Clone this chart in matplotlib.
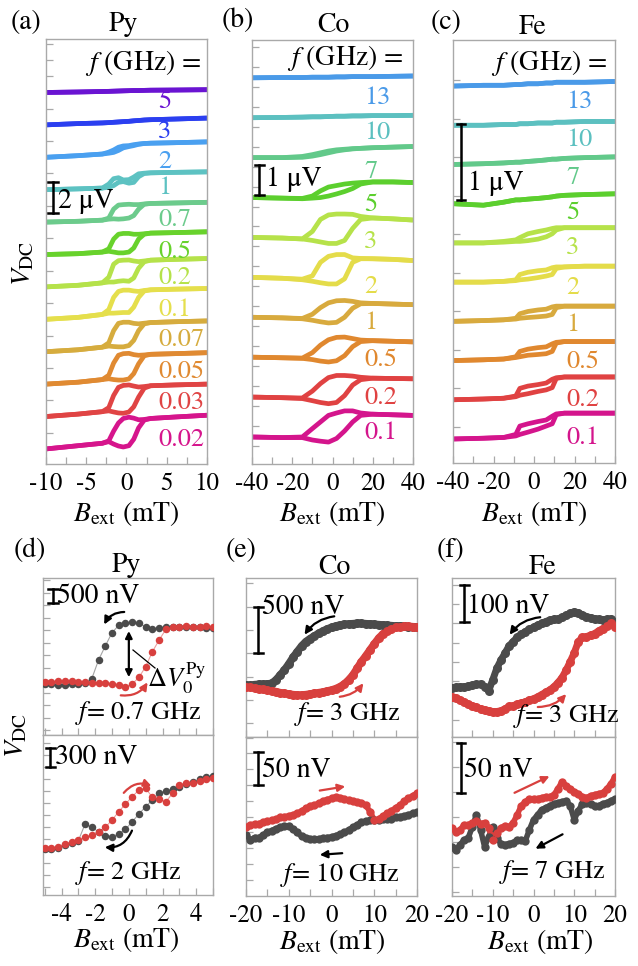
import numpy as np
import matplotlib
matplotlib.use("Agg")
import matplotlib.pyplot as plt
from matplotlib.lines import Line2D
from matplotlib.patches import FancyArrowPatch

plt.rcParams['font.family'] = ['STIXGeneral', 'DejaVu Serif']
plt.rcParams['mathtext.fontset'] = 'stix'
plt.rcParams['axes.unicode_minus'] = False

# ---------------- DATA ----------------
# (a) Py : field grid (mT) and V_DC relative to each curve's left level (uV)
py_freqs = ["5", "3", "2", "1", "0.7", "0.5", "0.2", "0.1", "0.07", "0.05", "0.03", "0.02"]
py_B = [-10, -6, -3, -2.2, -1.6, -1.0, -0.4, 0.3, 0.9, 1.5, 2.2, 3, 6, 10]
py_down = [
    [0, 0.03, 0.06, 0.07, 0.08, 0.09, 0.1, 0.11, 0.12, 0.12, 0.13, 0.14, 0.15, 0.17],
    [0, 0.08, 0.12, 0.14, 0.16, 0.18, 0.2, 0.22, 0.25, 0.27, 0.3, 0.32, 0.36, 0.42],
    [0, 0.1, 0.2, 0.32, 0.45, 0.62, 0.7, 0.72, 0.78, 0.82, 0.85, 0.87, 0.9, 0.95],
    [0, 0.05, 0.1, 0.35, 0.68, 0.74, 0.6, 0.62, 0.78, 0.98, 1.02, 1.04, 1.07, 1.1],
    [0, 0.05, 0.12, 0.25, 0.8, 1.05, 1.08, 1.1, 1.08, 1.08, 1.12, 1.15, 1.18, 1.22],
    [0, 0.05, 0.15, 0.35, 0.95, 1.25, 1.3, 1.3, 1.25, 1.25, 1.28, 1.32, 1.35, 1.4],
    [0, 0.1, 0.25, 0.6, 1.4, 1.62, 1.65, 1.66, 1.6, 1.56, 1.6, 1.65, 1.7, 1.75],
    [0, 0.12, 0.3, 0.6, 1.35, 1.72, 1.8, 1.8, 1.75, 1.72, 1.78, 1.82, 1.86, 1.9],
    [0, 0.12, 0.28, 0.55, 1.3, 1.75, 1.82, 1.82, 1.75, 1.72, 1.76, 1.8, 1.85, 1.9],
    [0, 0.12, 0.28, 0.55, 1.3, 1.78, 1.88, 1.9, 1.82, 1.78, 1.8, 1.84, 1.88, 1.94],
    [0, 0.15, 0.3, 0.55, 1.3, 1.8, 1.92, 1.95, 1.88, 1.82, 1.85, 1.9, 1.95, 2.0],
    [0, 0.2, 0.35, 0.5, 1.1, 1.6, 1.88, 1.96, 1.9, 1.8, 1.82, 1.88, 1.97, 2.08],
]
py_up = [
    [0, 0.03, 0.06, 0.07, 0.08, 0.09, 0.1, 0.11, 0.12, 0.12, 0.13, 0.14, 0.15, 0.17],
    [0, 0.08, 0.12, 0.14, 0.16, 0.18, 0.2, 0.22, 0.25, 0.27, 0.3, 0.32, 0.36, 0.42],
    [0, 0.1, 0.2, 0.25, 0.3, 0.42, 0.58, 0.66, 0.72, 0.8, 0.85, 0.87, 0.9, 0.95],
    [0, 0.05, 0.1, 0.15, 0.25, 0.45, 0.5, 0.4, 0.45, 0.8, 1.0, 1.04, 1.07, 1.1],
    [0, 0.05, 0.12, 0.18, 0.2, 0.18, 0.2, 0.25, 0.4, 0.8, 1.1, 1.15, 1.18, 1.22],
    [0, 0.05, 0.15, 0.2, 0.15, 0.1, 0.1, 0.15, 0.4, 0.95, 1.25, 1.32, 1.35, 1.4],
    [0, 0.1, 0.25, 0.3, 0.3, 0.35, 0.38, 0.35, 0.55, 1.15, 1.55, 1.65, 1.7, 1.75],
    [0, 0.12, 0.3, 0.38, 0.38, 0.4, 0.42, 0.42, 0.75, 1.35, 1.75, 1.82, 1.86, 1.9],
    [0, 0.12, 0.28, 0.35, 0.32, 0.3, 0.3, 0.38, 0.7, 1.3, 1.72, 1.8, 1.85, 1.9],
    [0, 0.12, 0.28, 0.33, 0.28, 0.25, 0.25, 0.32, 0.65, 1.25, 1.75, 1.84, 1.88, 1.94],
    [0, 0.15, 0.3, 0.35, 0.28, 0.22, 0.2, 0.28, 0.6, 1.2, 1.75, 1.9, 1.95, 2.0],
    [0, 0.2, 0.35, 0.45, 0.3, 0.18, 0.12, 0.2, 0.6, 1.3, 1.78, 1.88, 1.97, 2.08],
]

# (b) Co
co_freqs = ["13", "10", "7", "5", "3", "2", "1", "0.5", "0.2", "0.1"]
co_B = [-40, -25, -15, -10, -6, -2, 2, 6, 10, 14, 20, 30, 40]
co_down = [
    [0, 0.01, 0.01, 0.02, 0.02, 0.02, 0.03, 0.03, 0.04, 0.04, 0.04, 0.05, 0.06],
    [0, 0.01, 0.02, 0.03, 0.03, 0.04, 0.05, 0.05, 0.06, 0.06, 0.07, 0.07, 0.08],
    [0, 0, 0.04, 0.1, 0.16, 0.22, 0.26, 0.28, 0.3, 0.31, 0.33, 0.35, 0.37],
    [0, -0.02, -0.03, 0.05, 0.22, 0.35, 0.4, 0.45, 0.48, 0.5, 0.52, 0.52, 0.5],
    [0, -0.02, -0.05, 0.2, 0.6, 0.75, 0.78, 0.78, 0.77, 0.7, 0.65, 0.62, 0.58],
    [0, -0.03, -0.06, 0.05, 0.5, 0.7, 0.76, 0.76, 0.65, 0.63, 0.62, 0.6, 0.56],
    [0, -0.02, -0.04, 0.1, 0.32, 0.48, 0.55, 0.56, 0.53, 0.48, 0.46, 0.44, 0.42],
    [0, -0.02, -0.03, 0.15, 0.4, 0.58, 0.66, 0.67, 0.62, 0.57, 0.55, 0.53, 0.51],
    [0, -0.02, -0.03, 0.2, 0.45, 0.65, 0.72, 0.72, 0.7, 0.66, 0.63, 0.62, 0.61],
    [0, -0.02, 0.0, 0.28, 0.5, 0.72, 0.8, 0.87, 0.87, 0.8, 0.76, 0.74, 0.72],
]
co_up = [
    [0, 0.01, 0.01, 0.02, 0.02, 0.02, 0.03, 0.03, 0.04, 0.04, 0.04, 0.05, 0.06],
    [0, 0.01, 0.02, 0.03, 0.03, 0.04, 0.05, 0.05, 0.06, 0.06, 0.07, 0.07, 0.08],
    [0, 0, 0.01, 0.05, 0.1, 0.16, 0.22, 0.26, 0.29, 0.31, 0.33, 0.35, 0.37],
    [0, -0.02, -0.04, -0.02, 0.0, 0.05, 0.12, 0.2, 0.3, 0.45, 0.52, 0.52, 0.5],
    [0, -0.02, -0.05, -0.1, -0.15, -0.2, -0.2, -0.1, 0.3, 0.6, 0.65, 0.62, 0.58],
    [0, -0.03, -0.08, -0.13, -0.18, -0.22, -0.22, -0.05, 0.5, 0.62, 0.62, 0.6, 0.56],
    [0, -0.02, -0.05, -0.1, -0.15, -0.19, -0.17, 0.0, 0.3, 0.45, 0.46, 0.44, 0.42],
    [0, -0.02, -0.04, -0.08, -0.13, -0.16, -0.12, 0.05, 0.35, 0.52, 0.55, 0.53, 0.51],
    [0, -0.02, -0.05, -0.12, -0.18, -0.22, -0.18, 0.05, 0.4, 0.58, 0.63, 0.62, 0.61],
    [0, -0.02, -0.02, -0.1, -0.14, -0.17, -0.05, 0.2, 0.5, 0.72, 0.76, 0.74, 0.72],
]

# (c) Fe
fe_freqs = ["13", "10", "7", "5", "3", "2", "1", "0.5", "0.2", "0.1"]
fe_B = [-40, -25, -15, -9, -7, -3, 2, 6, 9, 11, 15, 25, 40]
fe_down = [
    [0, 0.01, 0.01, 0.02, 0.02, 0.03, 0.03, 0.04, 0.04, 0.05, 0.05, 0.05, 0.06],
    [0, 0.0, 0.01, 0.01, 0.02, 0.02, 0.03, 0.03, 0.03, 0.04, 0.04, 0.05, 0.05],
    [0, 0.01, 0.02, 0.03, 0.03, 0.04, 0.05, 0.06, 0.07, 0.07, 0.08, 0.09, 0.1],
    [0, -0.02, 0.02, 0.05, 0.05, 0.06, 0.07, 0.08, 0.09, 0.1, 0.11, 0.12, 0.13],
    [0, 0.0, 0.02, 0.04, 0.07, 0.12, 0.15, 0.17, 0.19, 0.2, 0.2, 0.2, 0.2],
    [0, 0.0, 0.01, 0.03, 0.1, 0.13, 0.15, 0.16, 0.19, 0.2, 0.2, 0.21, 0.21],
    [0, 0.01, 0.02, 0.04, 0.1, 0.13, 0.15, 0.16, 0.19, 0.2, 0.2, 0.2, 0.2],
    [0, 0.01, 0.02, 0.05, 0.12, 0.15, 0.17, 0.18, 0.22, 0.24, 0.25, 0.25, 0.25],
    [0, 0.01, 0.02, 0.05, 0.15, 0.18, 0.2, 0.22, 0.27, 0.29, 0.3, 0.3, 0.3],
    [0, 0.01, 0.02, 0.06, 0.17, 0.2, 0.23, 0.25, 0.3, 0.33, 0.34, 0.34, 0.34],
]
fe_up = [
    [0, 0.01, 0.01, 0.02, 0.02, 0.03, 0.03, 0.04, 0.04, 0.05, 0.05, 0.05, 0.06],
    [0, 0.0, 0.01, 0.01, 0.02, 0.02, 0.03, 0.03, 0.03, 0.04, 0.04, 0.05, 0.05],
    [0, 0.01, 0.02, 0.03, 0.03, 0.04, 0.05, 0.06, 0.07, 0.07, 0.08, 0.09, 0.1],
    [0, -0.02, 0.02, 0.05, 0.05, 0.06, 0.07, 0.08, 0.09, 0.1, 0.11, 0.12, 0.13],
    [0, 0, 0.01, 0.02, 0.02, 0.03, 0.05, 0.08, 0.12, 0.17, 0.2, 0.2, 0.2],
    [0, 0, 0.01, 0.02, 0.03, 0.04, 0.06, 0.08, 0.1, 0.18, 0.2, 0.21, 0.21],
    [0, 0.01, 0.02, 0.03, 0.04, 0.05, 0.06, 0.07, 0.09, 0.18, 0.2, 0.2, 0.2],
    [0, 0.01, 0.02, 0.04, 0.05, 0.07, 0.08, 0.09, 0.12, 0.23, 0.25, 0.25, 0.25],
    [0, 0.01, 0.02, 0.04, 0.06, 0.08, 0.11, 0.13, 0.16, 0.28, 0.3, 0.3, 0.3],
    [0, 0.01, 0.02, 0.04, 0.06, 0.09, 0.13, 0.17, 0.2, 0.32, 0.34, 0.34, 0.34],
]

# (d) Py, nV
d_B = [-5.0, -4.6, -4.2, -3.8, -3.4, -3.0, -2.6, -2.2, -1.8, -1.4, -1.0, -0.6, -0.2,
       0.2, 0.6, 1.0, 1.4, 1.8, 2.2, 2.6, 3.0, 3.4, 3.8, 4.2, 4.6, 5.0]
d07_black = [0, -13, -27, -27, -13, 0, 53, 213, 960, 1520, 2053, 2347, 2440,
             2480, 2427, 2293, 2213, 2240, 2267, 2267, 2267, 2267, 2267, 2267, 2253, 2253]
d07_red = [93, 93, 107, 107, 107, 93, 80, 53, 53, 27, 0, -53, -107,
           0, 267, 693, 1293, 1760, 2187, 2267, 2267, 2320, 2293, 2267, 2320, 2267]
d2_black = [-17, -6, 11, 50, 95, 128, 406, 351, 278, 206, 195, 239, 317,
            445, 573, 696, 807, 918, 963, 985, 1030, 1074, 1113, 1152, 1186, 1208]
d2_red = [0, 11, 28, 67, 111, 139, 184, 223, 278, 351, 473, 612, 740,
          863, 974, 1002, 852, 818, 779, 918, 1058, 1086, 1097, 1130, 1152, 1169]

# (e) Co and (f) Fe, nV, field every 1 mT from -20 to 20
ef_B = list(range(-20, 21))
e3_black = [0, -4, 4, 7, 7, 11, 18, 54, 107, 161, 225, 296, 357, 417, 464, 496, 525, 553, 578, 599,
            617, 631, 642, 649, 653, 656, 660, 660, 656, 653, 649, 646, 642, 638, 635, 631, 631, 628, 624, 621, 617]
e3_red = [-18, -25, -32, -39, -46, -54, -61, -71, -82, -89, -96, -103, -107, -107, -103, -96, -89, -82, -75, -64,
          -54, -39, -18, 11, 54, 107, 178, 250, 310, 375, 439, 499, 546, 581, 603, 617, 624, 628, 628, 624, 621]
e10_black = [0, -8, -4, -4, 0, 4, 7, 10, 12, 14, 14, 9, 4, -2, -4, -6, -7, -6, -5, -4,
             -3, -1, 1, 4, 8, 12, 16, 20, 22, 23, 24, 24, 25, 25, 26, 28, 29, 30, 32, 34, 36]
e10_red = [12, 16, 17, 18, 20, 22, 23, 25, 28, 29, 30, 32, 34, 38, 42, 45, 47, 50, 53, 56,
           58, 60, 59, 57, 55, 54, 52, 51, 47, 37, 24, 25, 30, 34, 38, 43, 47, 53, 58, 62, 66]
f3_black = [0, 3, 4, 4, 6, 8, 10, 11, 4, -6, 22, 52, 73, 91, 110, 121, 132, 140, 147, 153,
            158, 164, 168, 173, 177, 179, 180, 184, 189, 194, 198, 196, 190, 186, 183, 180, 179, 177, 179, 180, 173]
f3_red = [-22, -26, -30, -35, -41, -45, -49, -53, -56, -58, -60, -60, -58, -53, -47, -45, -41, -39, -35, -30,
          -27, -22, -16, -10, -4, 4, 15, 28, 47, 69, 92, 121, 132, 134, 138, 142, 149, 155, 161, 168, 158]
f7_black = [0, -3, 2, 7, 9, 20, 32, 17, 0, 10, 20, 9, 3, 2, 3, 4, 7, 7, 6, 17,
            27, 32, 37, 39, 41, 43, 44, 45, 46, 41, 27, 36, 43, 44, 43, 41, 41, 43, 44, 46, 48]
f7_red = [19, 15, 17, 22, 22, 24, 26, 23, 24, 19, 7, 14, 19, 21, 20, 24, 32, 41, 45, 48,
          48, 48, 49, 50, 50, 52, 58, 65, 61, 58, 55, 53, 50, 49, 51, 52, 53, 54, 58, 63, 70]

# ---------------- STYLE ----------------
W, H = 638, 966
fig = plt.figure(figsize=(W / 100, H / 100), dpi=100)
SPINE = '#a9a9a9'
BLACK = '#4b4b4b'
RED = '#d8403e'
FS = 19        # curve labels, f= texts
FS_T = 20      # titles, axis labels, scale bar labels
FS_TICK = 18

py_colors = ['#6a14d2', '#2b3ff0', '#4aa0f0', '#5dc2c2', '#6ccb8c', '#68d22c',
             '#b5e24a', '#e5df4c', '#d6ac3e', '#e08a32', '#e04444', '#d6158c']
co_colors = ['#4a9ae8', '#5cc0c0', '#62c98a', '#5ccf2e', '#b6e24a', '#e4dc4a',
             '#d8aa3e', '#e0882f', '#e04242', '#d4158c']


def fx(x):
    return x / W


def fy(y):
    return 1 - y / H


def add_ax(l, t, r, b):
    return fig.add_axes([l / W, 1 - b / H, (r - l) / W, (b - t) / H])


def style(ax, xlim, xlabels, xticks, ylim, yticks):
    ax.set_xlim(xlim)
    ax.set_ylim(ylim)
    for s in ax.spines.values():
        s.set_color(SPINE)
        s.set_linewidth(1.0)
    ax.set_xticks(xticks)
    ax.set_xticklabels(xlabels)
    ax.set_yticks(yticks)
    ax.set_yticklabels([])
    ax.tick_params(direction='in', color=SPINE, length=5, width=0.9,
                   labelsize=FS_TICK, pad=6)


def txt(x, y, s, fs=FS, ha='center', color='black', **kw):
    fig.text(fx(x), fy(y), s, fontsize=fs, ha=ha, va='center', color=color, **kw)


def scalebar(x, y0, y1, label, tx, ty):
    fig.add_artist(Line2D([fx(x), fx(x)], [fy(y0), fy(y1)], color='black', lw=1.8))
    for yy in (y0, y1):
        fig.add_artist(Line2D([fx(x - 4.5), fx(x + 4.5)], [fy(yy), fy(yy)], color='black', lw=1.8))
    txt(tx, ty, label, fs=FS_T, ha='left')


def arrow(p0, p1, color, rad=0.0):
    a = FancyArrowPatch((fx(p0[0]), fy(p0[1])), (fx(p1[0]), fy(p1[1])),
                        transform=fig.transFigure, arrowstyle='-|>', mutation_scale=11,
                        connectionstyle=f"arc3,rad={rad}", color=color, lw=1.6)
    fig.add_artist(a)


def waterfall(ax, B, downs, ups, colors, step):
    n = len(downs)
    for k in range(n):
        off = (n - 1 - k) * step
        for br in (downs[k], ups[k]):
            ax.plot(B, np.array(br) + off, color=colors[k], lw=3.4,
                    solid_joinstyle='round', solid_capstyle='butt', zorder=2)


# ---------------- TOP ROW ----------------
ax_a = add_ax(46, 39, 207, 464)
waterfall(ax_a, py_B, py_down, py_up, py_colors, 2.0)
style(ax_a, (-10, 10), ['-10', '', '-5', '', '0', '', '5', '', '10'],
      list(np.arange(-10, 10.1, 2.5)), (-0.93, 25.3), list(np.arange(0, 25.5, 1.0)))

tick40 = ['-40', '', '-20', '', '0', '', '20', '', '40']
ax_b = add_ax(252, 40, 413, 464)
waterfall(ax_b, co_B, co_down, co_up, co_colors, 1.33)
style(ax_b, (-40, 40), tick40, list(range(-40, 41, 10)),
      (-0.9, 13.23), list(np.arange(-0.3, 13.2, 0.665)))

ax_c = add_ax(453, 40, 615, 463)
waterfall(ax_c, fe_B, fe_down, fe_up, co_colors, 0.516)
style(ax_c, (-40, 40), tick40, list(range(-40, 41, 10)),
      (-0.316, 5.25), list(np.arange(0.158, 5.2, 0.507)))

# frequency labels
a_lab_y = [102, 132, 162, 188, 220, 252, 278, 310, 340, 372, 403, 440]
b_lab_y = [98, 133, 172, 205, 242, 287, 323, 360, 398, 433]
c_lab_y = [102, 140, 178, 213, 248, 288, 325, 362, 400, 438]
for s, y, c in zip(py_freqs, a_lab_y, py_colors):
    txt(158, y, s, ha='left', color=c)
for s, y, c in zip(co_freqs, b_lab_y, co_colors):
    txt(364, y, s, ha='left', color=c)
for s, y, c in zip(fe_freqs, c_lab_y, co_colors):
    txt(566, y, s, ha='left', color=c)

txt(143, 63, r"$f$ (GHz) =", fs=FS_T)
txt(345, 58, r"$f$ (GHz) =", fs=FS_T)
txt(549, 63, r"$f$ (GHz) =", fs=FS_T)

scalebar(53, 182, 213, "2 μV", 58, 201)
scalebar(259, 165, 195, "1 μV", 266, 179)
scalebar(461, 124, 200, "1 μV", 468, 183)

for lab, (x, y) in [("(a)", (26, 22)), ("(b)", (238, 20)), ("(c)", (446, 22)),
                    ("(d)", (30, 550)), ("(e)", (241, 550)), ("(f)", (450, 550))]:
    txt(x, y, lab, fs=FS_T)
for lab, (x, y) in [("Py", (123, 24)), ("Co", (333, 25)), ("Fe", (533, 27)),
                    ("Py", (126, 565)), ("Co", (334, 567)), ("Fe", (543, 567))]:
    txt(x, y, lab, fs=FS_T)

for x, y in [(126, 514), (332, 514), (534, 514), (126, 940), (332, 942), (540, 942)]:
    txt(x, y, r"$B_{\rm ext}$ (mT)", fs=FS_T)
txt(24, 263, r"$V_{\rm DC}$", fs=FS_T, rotation=90)
txt(17, 735, r"$V_{\rm DC}$", fs=FS_T, rotation=90)


# ---------------- BOTTOM ROW ----------------
def dots(ax, B, V, color, ms, lw, alpha):
    ax.plot(B, V, '-', color=color, lw=lw, alpha=alpha, zorder=2, solid_capstyle='round')
    ax.plot(B, V, 'o', color=color, ms=ms, mec='none', zorder=3)


d_ticks = list(range(-5, 6))
d_nolab = [''] * 11
d_labs = ['', '-4', '', '-2', '', '0', '', '2', '', '4', '']
ef_ticks = list(range(-20, 21, 5))
ef_nolab = [''] * 9
ef_labs = ['-20', '', '-10', '', '0', '', '10', '', '20']

ax_d1 = add_ax(43, 578, 213, 735)
dots(ax_d1, d_B, d07_black, BLACK, 5.4, 0.8, 0.5)
dots(ax_d1, d_B, d07_red, RED, 5.4, 0.8, 0.5)
style(ax_d1, (-5.1, 5.0), d_nolab, d_ticks, (-2040, 4240), list(range(-1840, 4200, 500)))
ax_d1.annotate('', xy=(0, 2230), xytext=(0, 160),
               arrowprops=dict(arrowstyle='<|-|>', color='black', lw=1.6, mutation_scale=10))

ax_d2 = add_ax(43, 735, 213, 895)
dots(ax_d2, d_B, d2_black, BLACK, 5.4, 0.8, 0.5)
dots(ax_d2, d_B, d2_red, RED, 5.4, 0.8, 0.5)
style(ax_d2, (-5.1, 5.0), d_labs, d_ticks, (-779, 1893), list(range(-640, 1890, 200)))

ax_e1 = add_ax(246, 578, 417, 737)
dots(ax_e1, ef_B, e3_black, BLACK, 6.5, 5.5, 1.0)
dots(ax_e1, ef_B, e3_red, RED, 6.5, 5.5, 1.0)
style(ax_e1, (-20, 20), ef_nolab, ef_ticks, (-556, 1145), list(range(-410, 1145, 250)))

ax_e2 = add_ax(246, 737, 417, 896)
dots(ax_e2, ef_B, e10_black, BLACK, 6.0, 4.0, 1.0)
dots(ax_e2, ef_B, e10_red, RED, 6.0, 4.0, 1.0)
style(ax_e2, (-20, 20), ef_labs, ef_ticks, (-96.4, 154.8), list(range(-71, 155, 25)))

ax_f1 = add_ax(452, 578, 615, 737)
dots(ax_f1, ef_B, f3_black, BLACK, 6.5, 5.0, 1.0)
dots(ax_f1, ef_B, f3_red, RED, 6.5, 5.0, 1.0)
style(ax_f1, (-20, 20), ef_nolab, ef_ticks, (-126, 285.8), list(range(-82, 286, 50)))

ax_f2 = add_ax(452, 737, 615, 896)
dots(ax_f2, ef_B, f7_black, BLACK, 6.0, 4.0, 1.0)
dots(ax_f2, ef_B, f7_red, RED, 6.0, 4.0, 1.0)
style(ax_f2, (-20, 20), ef_labs, ef_ticks, (-49.3, 109.7), list(range(-45, 110, 25)))

# scale bars bottom
scalebar(53, 589, 603, "500 nV", 57, 596)
scalebar(50, 748, 767, "300 nV", 55, 757)
scalebar(258, 607, 653, "500 nV", 262, 607)
scalebar(258, 752, 785, "50 nV", 262, 770)
scalebar(464, 585, 622, "100 nV", 467, 606)
scalebar(461, 743, 793, "50 nV", 464, 770)

# frequency annotations
txt(138, 713, r"$f$= 0.7 GHz")
txt(128, 873, r"$f$= 2 GHz")
txt(347, 714, r"$f$= 3 GHz")
txt(340, 875, r"$f$= 10 GHz")
txt(566, 716, r"$f$= 3 GHz")
txt(552, 872, r"$f$= 7 GHz")

# Delta V label and leader
fig.add_artist(Line2D([fx(133), fx(155)], [fy(650), fy(668)], color='black', lw=0.9))
txt(177, 678, r"$\mathit{\Delta}V_0^{\rm Py}$")

# sweep arrows
arrow((127, 612), (103, 627), 'black', rad=0.35)
arrow((118, 695), (149, 680), RED, rad=0.35)
arrow((122, 795), (154, 787), RED, rad=-0.4)
arrow((133, 828), (102, 847), 'black', rad=-0.4)
arrow((337, 616), (303, 637), 'black', rad=0.25)
arrow((337, 697), (365, 681), RED, rad=0.25)
arrow((317, 791), (348, 786), RED)
arrow((345, 853), (317, 855), 'black')
arrow((543, 617), (508, 637), 'black', rad=0.25)
arrow((535, 707), (568, 692), RED, rad=0.25)
arrow((512, 794), (552, 775), RED)
arrow((565, 833), (533, 850), 'black')

fig.savefig("out.png", dpi=100)
